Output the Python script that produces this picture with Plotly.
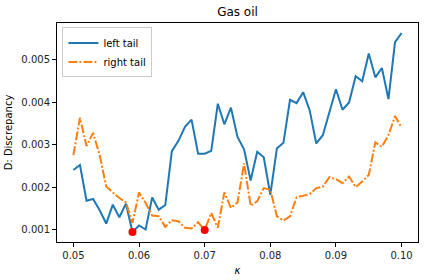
import numpy as np
import plotly.graph_objects as go

kappa = [round(0.05 + 0.001 * i, 3) for i in range(51)]

left_tail = [0.002405, 0.002522, 0.001679, 0.001719, 0.001452, 0.00114, 0.001585, 0.001288, 0.001609, 0.00094,
             0.001094, 0.001000, 0.001757, 0.001468, 0.001578, 0.00285, 0.003092, 0.00342, 0.003592, 0.002787,
             0.002787, 0.002857, 0.003967, 0.003482, 0.003873, 0.003185, 0.00289, 0.002155, 0.002834, 0.002702,
             0.00182, 0.002913, 0.003045, 0.004061, 0.003982, 0.004239, 0.00381, 0.00303, 0.003225, 0.003748,
             0.004309, 0.003826, 0.003998, 0.004614, 0.004497, 0.005152, 0.00459, 0.00481, 0.004075, 0.005419,
             0.005637]

right_tail = [0.002756, 0.003639, 0.002967, 0.003279, 0.002756, 0.002014, 0.001874, 0.001742, 0.00164, 0.001157,
              0.001874, 0.001625, 0.001328, 0.001312, 0.001063, 0.001218, 0.001195, 0.00104, 0.001023, 0.001171,
              0.00099, 0.00139, 0.00104, 0.001874, 0.001508, 0.00164, 0.002562, 0.001562, 0.001663, 0.001976,
              0.001937, 0.001312, 0.001211, 0.001312, 0.001757, 0.001803, 0.001835, 0.001976, 0.002014, 0.002234,
              0.002187, 0.002093, 0.002249, 0.002, 0.002132, 0.002288, 0.003054, 0.002951, 0.003225, 0.003677,
              0.003405]

i_left = int(np.argmin(left_tail))
i_right = int(np.argmin(right_tail))
min_x = [kappa[i_left], kappa[i_right]]
min_y = [left_tail[i_left], right_tail[i_right]]

fig = go.Figure()
fig.add_trace(go.Scatter(x=kappa, y=left_tail, mode="lines", name="left tail",
                         line=dict(color="#1f77b4", width=2)))
fig.add_trace(go.Scatter(x=kappa, y=right_tail, mode="lines", name="right tail",
                         line=dict(color="#ff7f0e", width=2, dash="9px,2px,2px,2px")))
fig.add_trace(go.Scatter(x=min_x, y=min_y, mode="markers", showlegend=False,
                         marker=dict(color="red", size=8)))

axis_common = dict(showgrid=False, zeroline=False, showline=True, linecolor="black", linewidth=1,
                   mirror=True, ticks="outside", ticklen=4, tickcolor="black",
                   tickfont=dict(size=10, color="#222"))

fig.update_layout(
    width=424, height=280,
    margin=dict(l=57, r=6, t=23, b=38),
    paper_bgcolor="white", plot_bgcolor="white",
    font=dict(family="DejaVu Sans", size=10, color="black"),
    title=dict(text="Gas oil", x=0.5, xanchor="center", xref="paper", y=0.957, yanchor="middle",
               font=dict(size=12)),
    xaxis=dict(range=[0.0475, 0.1025], tickvals=[0.05, 0.06, 0.07, 0.08, 0.09, 0.10], tickformat=".2f",
               title=dict(text="<i>κ</i>", standoff=6, font=dict(size=10)), **axis_common),
    yaxis=dict(range=[0.000705, 0.005872], tickvals=[0.001, 0.002, 0.003, 0.004, 0.005], tickformat=".3f",
               title=dict(text="D: Discrepancy", standoff=6, font=dict(size=10)), **axis_common),
    legend=dict(x=0.015, y=0.98, xanchor="left", yanchor="top", bgcolor="rgba(255,255,255,0.8)",
                bordercolor="#ccc", borderwidth=1, font=dict(size=10), tracegroupgap=0,
                itemwidth=30),
)

fig.write_html("out.html", config={"displayModeBar": False},
               post_script="document.body.style.margin='0';document.body.style.padding='0';")
